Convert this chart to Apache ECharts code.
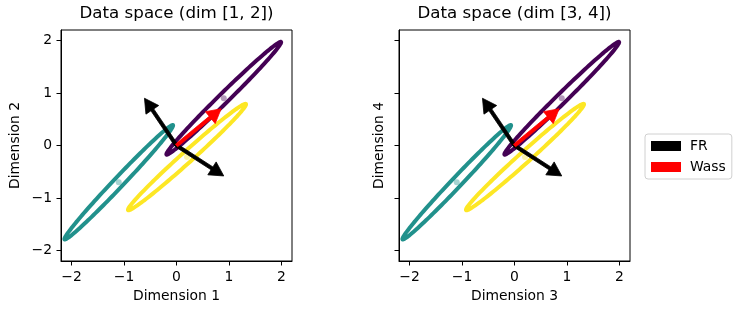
<!DOCTYPE html>
<html>
<head>
<meta charset="utf-8">
<script src="https://cdn.jsdelivr.net/npm/echarts@6/dist/echarts.min.js"></script>
<style>
  html, body { margin: 0; padding: 0; background: #fff; }
  #chart { width: 738px; height: 315px; }
</style>
</head>
<body>
<div id="chart"></div>
<script>
// ── Data (both panels show the same picture) ──────────────────────────────
const panelTitles = ['Data space (dim [1, 2])', 'Data space (dim [3, 4])'];
const xNames = ['Dimension 1', 'Dimension 3'];
const yNames = ['Dimension 2', 'Dimension 4'];
const tickValues = [-2, -1, 0, 1, 2];

// ellipses: centre, semi axes (data units), angle of the major axis (deg)
const ellipseCenters = [[0.90, 0.90], [-1.10, -0.70], [0.20, -0.22]];
const ellipseSemiMajor = [1.53, 1.50, 1.51];
const ellipseSemiMinor = [0.095, 0.095, 0.105];
const ellipseAngles = [44.5, 46.5, 42.0];
const ellipseColors = ['#440154', '#21918c', '#fde725'];
const dotColors = ['rgba(68,1,84,0.5)', 'rgba(33,145,140,0.5)', 'rgba(253,231,37,0.5)'];

// arrows: [x0, y0, dx, dy]
const frArrows = [[0, 0, -0.61, 0.90], [0, 0, 0.90, -0.58]];
const wassArrows = [[0, 0, 0.85, 0.70]];

// ── Layout ─────────────────────────────────────────────────────────────
const FONT = 'DejaVu Sans';
const GRID_LEFT = [61, 399];
const GRID_TOP = 30, GRID_SIZE = 231;
const fmt = v => (v < 0 ? '\u2212' + (-v) : String(v));

function renderEllipse(params, api) {
  const i = params.dataIndex;
  const cx = api.value(0), cy = api.value(1);
  const a = api.value(2), b = api.value(3);
  const th = api.value(4) * Math.PI / 180;
  const pts = [];
  for (let k = 0; k < 160; k++) {
    const t = k / 160 * Math.PI * 2;
    const x = cx + a * Math.cos(t) * Math.cos(th) - b * Math.sin(t) * Math.sin(th);
    const y = cy + a * Math.cos(t) * Math.sin(th) + b * Math.sin(t) * Math.cos(th);
    pts.push(api.coord([x, y]));
  }
  return {
    type: 'polygon',
    shape: { points: pts },
    style: { fill: null, stroke: ellipseColors[i], lineWidth: 4 }
  };
}

function makeArrowRenderer(color) {
  return function (params, api) {
    const x0 = api.value(0), y0 = api.value(1);
    const p0 = api.coord([x0, y0]);
    const p1 = api.coord([x0 + api.value(2), y0 + api.value(3)]);
    const dx = p1[0] - p0[0], dy = p1[1] - p0[1];
    const len = Math.sqrt(dx * dx + dy * dy);
    const ux = dx / len, uy = dy / len, nx = -uy, ny = ux;
    const sw = 1.7, hw = 7.7, hl = 14;
    const bx = p1[0] - ux * hl, by = p1[1] - uy * hl;
    return {
      type: 'polygon',
      shape: { points: [
        [p0[0] + nx * sw, p0[1] + ny * sw],
        [bx + nx * sw, by + ny * sw],
        [bx + nx * hw, by + ny * hw],
        [p1[0], p1[1]],
        [bx - nx * hw, by - ny * hw],
        [bx - nx * sw, by - ny * sw],
        [p0[0] - nx * sw, p0[1] - ny * sw]
      ] },
      style: { fill: color, stroke: color, lineWidth: 0.8 }
    };
  };
}

const ellipseData = ellipseCenters.map((c, i) =>
  [c[0], c[1], ellipseSemiMajor[i], ellipseSemiMinor[i], ellipseAngles[i]]);
const dotData = ellipseCenters.map((c, i) => ({ value: c, itemStyle: { color: dotColors[i] } }));

const grids = [], xAxes = [], yAxes = [], titles = [], series = [];
for (let p = 0; p < 2; p++) {
  grids.push({
    left: GRID_LEFT[p], top: GRID_TOP, width: GRID_SIZE, height: GRID_SIZE,
    show: true, borderColor: '#000', borderWidth: 1, backgroundColor: 'transparent'
  });
  titles.push({
    text: panelTitles[p],
    left: GRID_LEFT[p] + GRID_SIZE / 2, top: 5, textAlign: 'center', padding: 0,
    textStyle: { fontFamily: FONT, fontSize: 16.7, fontWeight: 'normal', color: '#000' }
  });
  xAxes.push({
    type: 'value', gridIndex: p, min: -2.2, max: 2.2,
    name: xNames[p], nameLocation: 'middle', nameGap: 28,
    nameTextStyle: { fontFamily: FONT, fontSize: 13.9, color: '#000' },
    axisLine: { show: true, onZero: false, lineStyle: { color: '#000', width: 1 } },
    axisTick: { show: true, length: 4.5, customValues: tickValues, lineStyle: { color: '#000' } },
    axisLabel: { customValues: tickValues, margin: 9, formatter: fmt,
      fontFamily: FONT, fontSize: 13.9, color: '#000' },
    splitLine: { show: false }
  });
  yAxes.push({
    type: 'value', gridIndex: p, min: -2.2, max: 2.2,
    name: yNames[p], nameLocation: 'middle', nameGap: p === 0 ? 39 : 13, nameRotate: 90,
    nameTextStyle: { fontFamily: FONT, fontSize: 13.9, color: '#000' },
    axisLine: { show: true, onZero: false, lineStyle: { color: '#000', width: 1 } },
    axisTick: { show: true, length: 4.5, customValues: tickValues, lineStyle: { color: '#000' } },
    axisLabel: { show: p === 0, customValues: tickValues, margin: 9, formatter: fmt,
      fontFamily: FONT, fontSize: 13.9, color: '#000' },
    splitLine: { show: false }
  });

  series.push({
    type: 'scatter', xAxisIndex: p, yAxisIndex: p, symbolSize: 6,
    data: dotData, silent: true, z: 2
  });
  series.push({
    type: 'custom', xAxisIndex: p, yAxisIndex: p, renderItem: renderEllipse,
    data: ellipseData, encode: { x: 0, y: 1 }, clip: true, silent: true, z: 3
  });
  series.push({
    name: 'FR', type: 'custom', xAxisIndex: p, yAxisIndex: p,
    renderItem: makeArrowRenderer('#000'), itemStyle: { color: '#000' },
    data: frArrows, encode: { x: 0, y: 1 }, silent: true, z: 4
  });
  series.push({
    name: 'Wass', type: 'custom', xAxisIndex: p, yAxisIndex: p,
    renderItem: makeArrowRenderer('#ff0000'), itemStyle: { color: '#ff0000' },
    data: wassArrows, encode: { x: 0, y: 1 }, silent: true, z: 5
  });
}

const chart = echarts.init(document.getElementById('chart'), null, { renderer: 'canvas' });
chart.setOption({
  animation: false,
  backgroundColor: '#fff',
  title: titles,
  grid: grids,
  xAxis: xAxes,
  yAxis: yAxes,
  legend: {
    data: ['FR', 'Wass'], orient: 'vertical', left: 645, top: 134,
    icon: 'rect', itemWidth: 30, itemHeight: 10, itemGap: 5,
    padding: [4, 6, 4, 6], borderColor: '#d0d0d0', borderWidth: 1, borderRadius: 3,
    selectedMode: false,
    textStyle: { fontFamily: FONT, fontSize: 13.9, color: '#000', lineHeight: 16, padding: [0, 0, 0, 4] }
  },
  series: series
});
</script>
</body>
</html>
